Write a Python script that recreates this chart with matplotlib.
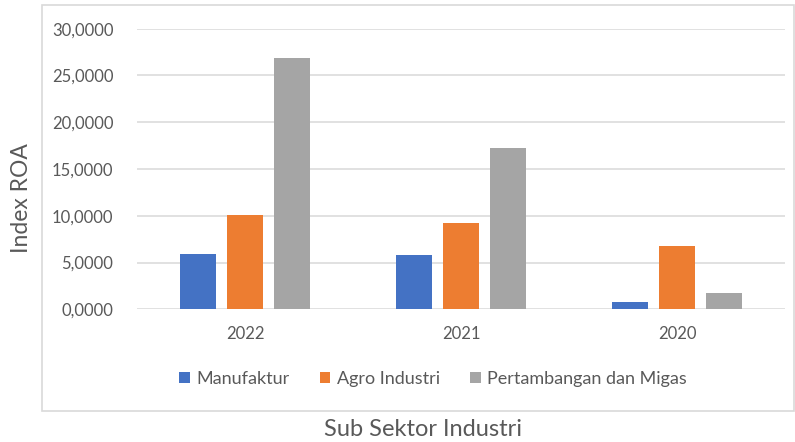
import matplotlib
matplotlib.use("Agg")
import matplotlib.pyplot as plt
from matplotlib.patches import Rectangle
from matplotlib.ticker import FuncFormatter
import numpy as np

plt.rcParams['font.family'] = ['Lato', 'DejaVu Sans']

# data
years = ['2022', '2021', '2020']
manufaktur = [5.95, 5.80, 0.82]
agro_industri = [10.05, 9.2, 6.75]
pertambangan = [26.9, 17.25, 1.72]

series_names = ['Manufaktur', 'Agro Industri', 'Pertambangan dan Migas']
colors = ['#4472C4', '#ED7D31', '#A5A5A5']
text_color = '#595959'
grid_color = '#D9D9D9'

fig = plt.figure(figsize=(7.95, 4.42), dpi=100)

# outer chart frame (Excel style), y-label and x-label sit outside it
frame = Rectangle((42 / 795, 1 - 410.5 / 442), (794 - 42) / 795, (410.5 - 4.5) / 442,
                  transform=fig.transFigure, fill=False, edgecolor=grid_color, linewidth=1.2)
fig.patches.append(frame)

ax = fig.add_axes([137 / 795, 1 - 309.3 / 442, (785 - 137) / 795, (309.3 - 28.7) / 442])

x = np.arange(len(years))
width = 0.17
step = 0.217
for i, (vals, name) in enumerate(zip([manufaktur, agro_industri, pertambangan], series_names)):
    ax.bar(x + (i - 1) * step, vals, width, color=colors[i], label=name, zorder=3)

ax.set_xlim(-0.5, 2.5)
ax.set_ylim(0, 30)
ax.set_yticks(np.arange(0, 31, 5))
ax.yaxis.set_major_formatter(FuncFormatter(lambda v, p: f'{v:.4f}'.replace('.', ',')))
ax.set_xticks(x)
ax.set_xticklabels(years)

ax.grid(axis='y', color=grid_color, linewidth=1.1, zorder=0)
for s in ['top', 'right', 'left', 'bottom']:
    ax.spines[s].set_visible(False)
ax.tick_params(axis='both', length=0, labelsize=12, colors=text_color)
ax.tick_params(axis='y', pad=17)
ax.tick_params(axis='x', pad=12)

fig.text(22 / 795, 1 - 198 / 442, 'Index ROA', rotation=90, ha='center', va='center',
         fontsize=16.5, color=text_color)
fig.text(423 / 795, 1 - 429 / 442, 'Sub Sektor Industri', ha='center', va='center',
         fontsize=17, color=text_color)

leg = fig.legend(loc='center', bbox_to_anchor=(433 / 795, 1 - 379 / 442), ncol=3, frameon=False,
                 fontsize=13, handlelength=0.6, handleheight=0.6, handletextpad=0.35,
                 columnspacing=1.65)
for t in leg.get_texts():
    t.set_color(text_color)

plt.savefig('out.png', dpi=100)
